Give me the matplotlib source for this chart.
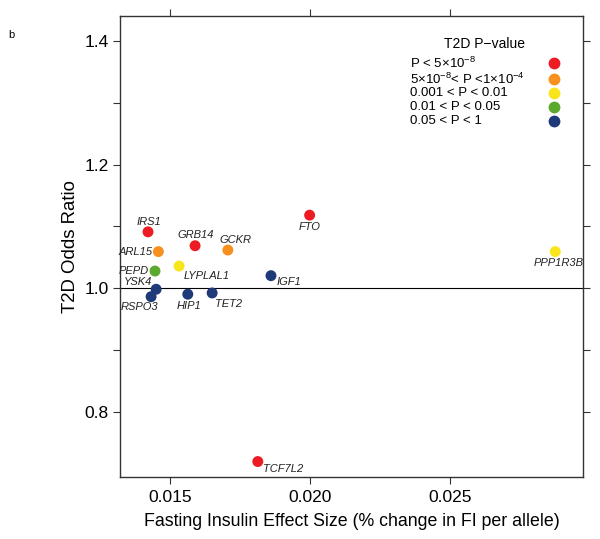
import matplotlib
matplotlib.use("Agg")
import matplotlib.pyplot as plt

plt.rcParams['font.family'] = ['Liberation Sans', 'DejaVu Sans']
plt.rcParams['mathtext.fontset'] = 'custom'
plt.rcParams['mathtext.rm'] = 'Liberation Sans'
plt.rcParams['mathtext.it'] = 'Liberation Sans:italic'

# ---- data ----
genes = ["IRS1", "ARL15", "PEPD", "YSK4", "RSPO3", "GRB14", "GCKR", "LYPLAL1",
         "HIP1", "TET2", "IGF1", "FTO", "PPP1R3B", "TCF7L2"]
fi_effect = [0.01421, 0.01458, 0.01446, 0.0145, 0.01432, 0.01589, 0.01706, 0.01532,
             0.01563, 0.0165, 0.0186, 0.01998, 0.02875, 0.01813]
t2d_or = [1.091, 1.059, 1.0275, 0.998, 0.986, 1.0685, 1.0615, 1.0356,
          0.990, 0.992, 1.020, 1.118, 1.059, 0.719]
p_class = [0, 1, 3, 4, 4, 0, 1, 2, 4, 4, 4, 0, 2, 0]

legend_title = "T2D P\u2212value"
legend_labels = [r"P < 5$\times$10$^{-8}$",
                 r"5$\times$10$^{-8}$< P <1$\times$10$^{-4}$",
                 "0.001 < P < 0.01",
                 "0.01 < P < 0.05",
                 "0.05 < P < 1"]
x_ticks = [0.015, 0.020, 0.025]
x_ticklabels = ["0.015", "0.020", "0.025"]
y_ticks = [0.8, 0.9, 1.0, 1.1, 1.2, 1.3, 1.4]
y_ticklabels = ["0.8", "", "1.0", "", "1.2", "", "1.4"]

# ---- styles ----
class_colors = ["#ED1C24", "#F7901E", "#F9E51C", "#5BAA2E", "#1E3A78"]
# label offsets in pixels (dx, dy, ha)
label_pos = {
    "IRS1": (1, 10, "center"), "ARL15": (-5.5, 0, "right"), "PEPD": (-6, 0, "right"),
    "YSK4": (-4, 7, "right"), "RSPO3": (-12, -10, "center"), "GRB14": (1, 10.5, "center"),
    "GCKR": (8, 10, "center"), "LYPLAL1": (5, -10, "left"), "HIP1": (1, -12, "center"),
    "TET2": (3, -11, "left"), "IGF1": (5.5, -6, "left"), "FTO": (0, -12, "center"),
    "PPP1R3B": (3, -11.5, "center"), "TCF7L2": (5.5, -7, "left"),
}

W, H = 600, 539
fig = plt.figure(figsize=(W/100, H/100), dpi=100)
ax_l, ax_r, ax_t, ax_b = 120, 583, 16, 477
ax = fig.add_axes([ax_l/W, 1-ax_b/H, (ax_r-ax_l)/W, (ax_b-ax_t)/H])

ax.set_xlim(0.01321, 0.02974)
ax.set_ylim(0.694, 1.4405)

ax.axhline(1.0, color="black", lw=0.8, zorder=1)

cols = [class_colors[c] for c in p_class]
ax.scatter(fi_effect, t2d_or, s=62, c=cols, edgecolors="none", zorder=3)

for g, x, y in zip(genes, fi_effect, t2d_or):
    dx, dy, ha = label_pos[g]
    ax.annotate(g, (x, y), xytext=(dx, dy), textcoords="offset pixels",
                ha=ha, va="center", fontsize=8, style="italic", color="#222222")

ax.set_xticks(x_ticks)
ax.set_xticklabels(x_ticklabels)
ax.set_yticks(y_ticks)
ax.set_yticklabels(y_ticklabels)
ax.tick_params(axis="both", direction="out", length=5, width=0.8, labelsize=12.5,
               color="#333333", top=True, right=True)
ax.tick_params(axis="x", pad=4)
ax.tick_params(axis="y", pad=3)
for sp in ax.spines.values():
    sp.set_linewidth(1.0)
    sp.set_color("#333333")

ax.set_xlabel("Fasting Insulin Effect Size (% change in FI per allele)", fontsize=12.8, labelpad=6)
ax.set_ylabel("T2D Odds Ratio", fontsize=13.4, labelpad=4)

# ---- legend (drawn manually in axes coordinates) ----
def ax_xy(px, py):
    return (px - ax_l) / (ax_r - ax_l), 1 - (py - ax_t) / (ax_b - ax_t)

tx, ty = ax_xy(485, 44)
ax.text(tx, ty, legend_title, transform=ax.transAxes, ha="center", va="center", fontsize=10)
row_y = [63, 79, 93, 107, 121]
for lab, col, ry in zip(legend_labels, class_colors, row_y):
    lx, ly = ax_xy(410, ry)
    ax.text(lx, ly, lab, transform=ax.transAxes, ha="left", va="center", fontsize=9.5)
    mx, my = ax_xy(554, ry)
    ax.plot([mx], [my], marker="o", markersize=8.5, color=col, markeredgecolor="none",
            transform=ax.transAxes, clip_on=False)

fig.text(8/W, 1-35/H, "b", fontsize=8, ha="left", va="center")

fig.savefig("out.png", dpi=100, facecolor="white")
